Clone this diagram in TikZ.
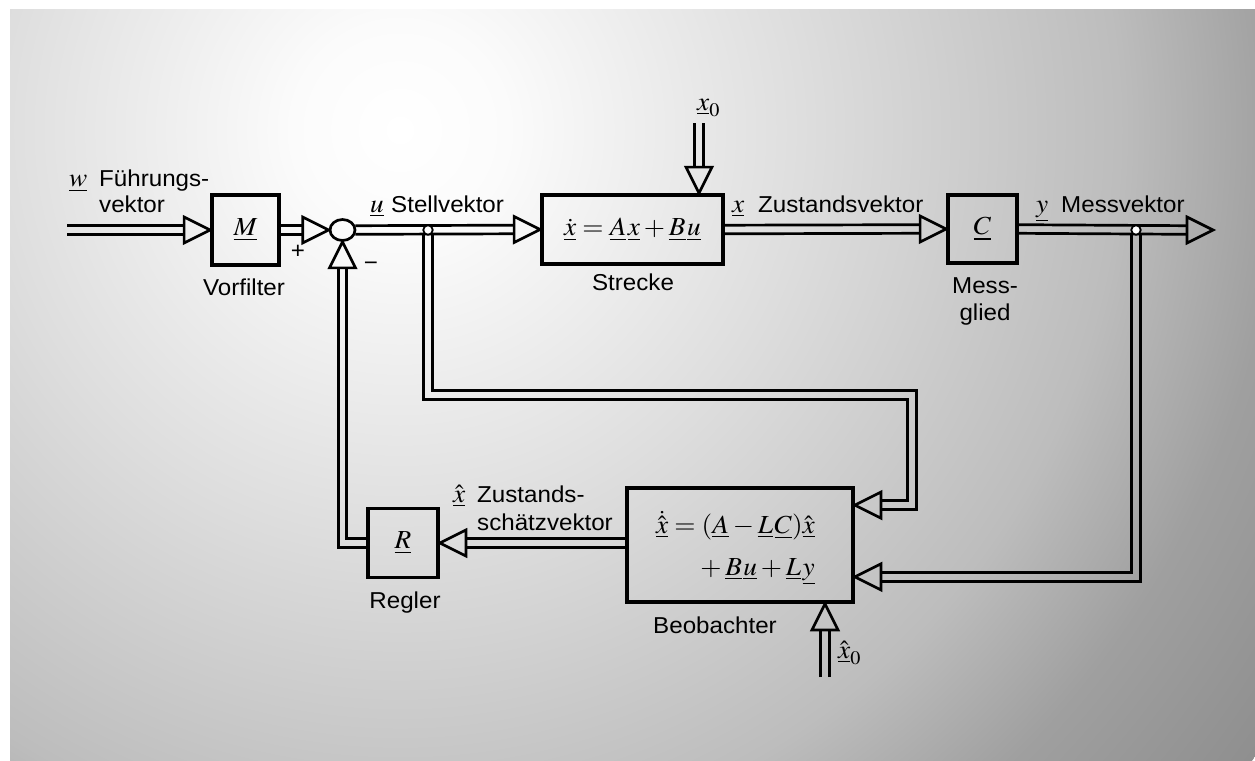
\documentclass[tikz,border=0pt]{standalone}
\usepackage{graphicx}
\usepackage{amsmath}
\usepackage{mathptmx}
\usepackage[no-math]{fontspec}
\setmainfont{Liberation Sans}[FakeStretch=1.05]
\usetikzlibrary{calc,shapes.geometric}
\definecolor{bgA}{gray}{0.985}
\definecolor{bgB}{gray}{0.87}
\definecolor{bgC}{gray}{0.74}
\definecolor{bgD}{gray}{0.625}
\definecolor{bgE}{gray}{0.56}
\pgfdeclareradialshading{bgshade}{\pgfpoint{0bp}{0bp}}{color(0bp)=(white); color(2.5bp)=(bgA); color(9.5bp)=(bgB); color(17bp)=(bgC); color(20.75bp)=(bgD); color(25bp)=(bgE); color(50bp)=(bgE)}
\newcommand\mth[1]{\scalebox{1.05}[1]{$#1$}}
\newcommand\arrowhd[2]{\draw[conn, shift={#1}, rotate=#2] (0,0) -- (-26,-13) -- (-26,13) -- cycle;}
\begin{document}
\begin{tikzpicture}[x=1pt,y=-1pt,
  blk/.style={draw, line width=3.8pt, inner sep=0pt},
  conn/.style={line width=2.7pt},
  lbl/.style={font=\fontsize{23}{27}\selectfont, inner sep=0pt},
  mlbl/.style={font=\fontsize{26}{30}\selectfont, inner sep=0pt},
  jdot/.style={circle, draw, fill=white, line width=1.8pt, minimum size=9.5pt, inner sep=0pt}]
\useasboundingbox (0,0) rectangle (1255,760);
\fill[white] (0,0) rectangle (1255,760);
\begin{scope}
  \clip (10,10) rectangle (1255,760);
  \shade[shading=bgshade] (400,130) circle [radius=1060pt];
\end{scope}

% blocks
\node[blk, mlbl, minimum width=67pt, minimum height=70pt] (M) at (245.5,230) {\mth{\underline{M}}};
\node[blk, mlbl, minimum width=181pt, minimum height=69pt] (S) at (632.5,229.5) {\mth{\dot{\underline{x}}=\underline{A}\mkern1mu\underline{x}+\underline{B}\mkern1mu\underline{u}}};
\node[blk, mlbl, minimum width=69pt, minimum height=68pt] (C) at (982.5,229) {\mth{\underline{C}}};
\node[blk, minimum width=226pt, minimum height=114pt] (O) at (740,545) {};
\node[blk, mlbl, minimum width=70pt, minimum height=69pt] (R) at (403,543) {\mth{\underline{R}}};
\node[draw, ellipse, line width=2.7pt, minimum width=25pt, minimum height=21pt, inner sep=0pt] (sum) at (342.5,230) {};

% observer formula
\node[mlbl, anchor=base east] (of1) at (815,533) {\mth{\dot{\hat{\underline{x}}}=(\underline{A}-\underline{L}\mkern1mu\underline{C})\hat{\underline{x}}}};
\node[mlbl, anchor=base east] (of2) at (815,575) {\mth{{}+\underline{B}\mkern1mu\underline{u}+\underline{L}\mkern1mu\underline{y}}};

% coordinates
\coordinate (win) at (67,230);
\coordinate (out) at (1213,230);
\coordinate (x0top) at (699,123);
\coordinate (xh0) at (825,677);
\coordinate (uc1) at (428,395);
\coordinate (uc2) at (912,395);
\coordinate (oin1) at ($(O.north east)+(0,19)$);
\coordinate (oin2) at ($(O.south east)+(0,-27)$);
\coordinate (rc) at (sum.south |- R.west);

% w -> M
\draw[conn] ($(win)+(0,-4.3)$) -- ($(M.west)+(-26,-4.3)$);
\draw[conn] ($(win)+(0,4.3)$) -- ($(M.west)+(-26,4.3)$);
\arrowhd{(M.west)}{0}
% M -> sum
\draw[conn] ($(M.east)+(0,-4.3)$) -- ($(sum.west)+(-26,-4.3)$);
\draw[conn] ($(M.east)+(0,4.3)$) -- ($(sum.west)+(-26,4.3)$);
\arrowhd{(sum.west)}{0}
% sum -> S
\draw[conn] ($(sum.east)+(-1,-4.3)$) -- ($(S.west)+(-26,-4.3)$);
\draw[conn] ($(sum.east)+(-1,4.3)$) -- ($(S.west)+(-26,4.3)$);
\arrowhd{(S.west)}{0}
% S -> C
\draw[conn] ($(S.east)+(0,-4.3)$) -- ($(C.west)+(-26,-4.3)$);
\draw[conn] ($(S.east)+(0,4.3)$) -- ($(C.west)+(-26,4.3)$);
\arrowhd{(C.west)}{0}
% C -> out
\draw[conn] ($(C.east)+(0,-4.3)$) -- ($(out)+(-26,-4.3)$);
\draw[conn] ($(C.east)+(0,4.3)$) -- ($(out)+(-26,4.3)$);
\arrowhd{(out)}{0}
% x0 -> S
\draw[conn] ($(x0top)+(-4.3,0)$) -- ($(x0top |- S.north)+(-4.3,-26)$);
\draw[conn] ($(x0top)+(4.3,0)$) -- ($(x0top |- S.north)+(4.3,-26)$);
\arrowhd{(x0top |- S.north)}{-90}
% u branch -> O
\coordinate (j1) at (428,230);
\draw[conn] ($(j1)+(-4.3,4.3)$) -- ($(uc1)+(-4.3,4.3)$) -- ($(uc2)+(-4.3,4.3)$) -- ($(uc2 |- oin1)+(-4.3,-4.3)$) -- ($(oin1)+(26,-4.3)$);
\draw[conn] ($(j1)+(4.3,4.3)$) -- ($(uc1)+(4.3,-4.3)$) -- ($(uc2)+(4.3,-4.3)$) -- ($(uc2 |- oin1)+(4.3,4.3)$) -- ($(oin1)+(26,4.3)$);
\arrowhd{(oin1)}{180}
% y branch -> O
\coordinate (j2) at (1136,230);
\draw[conn] ($(j2)+(-4.3,4.3)$) -- ($(j2 |- oin2)+(-4.3,-4.3)$) -- ($(oin2)+(26,-4.3)$);
\draw[conn] ($(j2)+(4.3,4.3)$) -- ($(j2 |- oin2)+(4.3,4.3)$) -- ($(oin2)+(26,4.3)$);
\arrowhd{(oin2)}{180}
% xhat0 -> O
\draw[conn] ($(xh0)+(-4.3,0)$) -- ($(xh0 |- O.south)+(-4.3,26)$);
\draw[conn] ($(xh0)+(4.3,0)$) -- ($(xh0 |- O.south)+(4.3,26)$);
\arrowhd{(xh0 |- O.south)}{90}
% O -> R
\draw[conn] ($(O.west |- R.east)+(0,-4.3)$) -- ($(R.east)+(26,-4.3)$);
\draw[conn] ($(O.west |- R.east)+(0,4.3)$) -- ($(R.east)+(26,4.3)$);
\arrowhd{(R.east)}{180}
% R -> sum
\draw[conn] ($(R.west)+(0,-4.3)$) -- ($(rc)+(4.3,-4.3)$) -- ($(sum.south)+(4.3,26)$);
\draw[conn] ($(R.west)+(0,4.3)$) -- ($(rc)+(-4.3,4.3)$) -- ($(sum.south)+(-4.3,26)$);
\arrowhd{(sum.south)}{90}

% junction dots
\node[jdot] (dot1) at (j1) {};
\node[jdot] (dot2) at (j2) {};

% labels
\node[mlbl, anchor=base west] (lw) at (69,186) {\mth{\underline{w}}};
\node[lbl, anchor=base west] (lw1) at (99,186) {Führungs-};
\node[lbl, anchor=base west] (lw2) at (99,212) {vektor};
\node[mlbl, anchor=base west] (lu) at (370,212) {\mth{\underline{u}}};
\node[lbl, anchor=base west] (lu1) at (391,212) {Stellvektor};
\node[mlbl, anchor=base west] (lx) at (732,212) {\mth{\underline{x}}};
\node[lbl, anchor=base west] (lx1) at (758,212) {Zustandsvektor};
\node[mlbl, anchor=base west] (ly) at (1036,212) {\mth{\underline{y}}};
\node[lbl, anchor=base west] (ly1) at (1061,212) {Messvektor};
\node[lbl, anchor=base] (lvf) at (244,295) {Vorfilter};
\node[lbl, anchor=base] (lst) at (633,290) {Strecke};
\node[lbl, anchor=base] (lmg1) at (985,293) {Mess-};
\node[lbl, anchor=base] (lmg2) at (985,320) {glied};
\node[lbl, anchor=base] (lrg) at (405,608) {Regler};
\node[lbl, anchor=base] (lbo) at (715,633) {Beobachter};
\node[mlbl, anchor=base west] (lxh) at (453,502) {\mth{\hat{\underline{x}}}};
\node[lbl, anchor=base west] (lxh1) at (477,502) {Zustands-};
\node[lbl, anchor=base west] (lxh2) at (477,530) {schätzvektor};
\node[mlbl, anchor=base west] (lx0) at (697,110) {\mth{\underline{x}_0}};
\node[mlbl, anchor=base west] (lxh0) at (838,658) {\mth{\hat{\underline{x}}_0}};
\node[lbl] (lplus) at (298,252) {+};
\node[lbl] (lminus) at (371,266) {−};
\end{tikzpicture}
\end{document}
